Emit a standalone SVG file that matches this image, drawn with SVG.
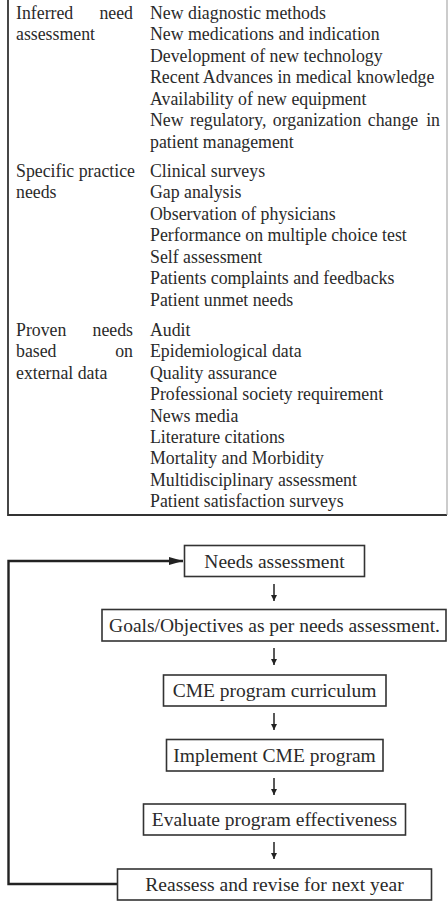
<svg xmlns="http://www.w3.org/2000/svg" width="448" height="902" viewBox="0 0 448 902">
<style>
text{font-family:"Liberation Serif","Times New Roman",serif;fill:#2a2a2a}
.t{font-size:17.8px}
.f{font-size:19.5px;text-anchor:middle}
.e{text-anchor:end}
.box{fill:#fff;stroke:#333;stroke-width:1.6}
.ar{stroke:#222;stroke-width:1.5;fill:none}
</style>
<defs>
<marker id="sm" viewBox="0 0 10 10" refX="10" refY="5" markerWidth="6" markerHeight="6" markerUnits="userSpaceOnUse" orient="auto"><path d="M0,0L10,5L0,10z" fill="#222"/></marker>
<marker id="lg" viewBox="0 0 14 8" refX="14" refY="4" markerWidth="14" markerHeight="8" markerUnits="userSpaceOnUse" orient="auto"><path d="M0,0L14,4L0,8z" fill="#222"/></marker>
</defs>
<g id="table">
<path d="M8,0V515H447" fill="none" stroke="#333" stroke-width="1.8"/>
<line x1="447" y1="0" x2="447" y2="515" stroke="#999" stroke-width="1"/>
<g id="row1">
<text class="t" x="16" y="18.7">Inferred</text><text class="t e" x="133" y="18.7">need</text>
<text class="t" x="16" y="40.2">assessment</text>
<text class="t" x="150" y="18.7">New diagnostic methods</text>
<text class="t" x="150" y="40.2">New medications and indication</text>
<text class="t" x="150" y="61.7">Development of new technology</text>
<text class="t" x="150" y="83.2">Recent Advances in medical knowledge</text>
<text class="t" x="150" y="104.7">Availability of new equipment</text>
<text class="t" x="150" y="126.2" word-spacing="2">New regulatory, organization change</text><text class="t e" x="440" y="126.2">in</text>
<text class="t" x="150" y="147.7">patient management</text>
</g>
<g id="row2">
<text class="t" x="16" y="176.7">Specific practice</text>
<text class="t" x="16" y="198.2">needs</text>
<text class="t" x="150" y="176.7">Clinical surveys</text>
<text class="t" x="150" y="198.2">Gap analysis</text>
<text class="t" x="150" y="219.7">Observation of physicians</text>
<text class="t" x="150" y="241.2">Performance on multiple choice test</text>
<text class="t" x="150" y="262.7">Self assessment</text>
<text class="t" x="150" y="284.2">Patients complaints and feedbacks</text>
<text class="t" x="150" y="305.7">Patient unmet needs</text>
</g>
<g id="row3">
<text class="t" x="16" y="336">Proven</text><text class="t e" x="133" y="336">needs</text>
<text class="t" x="16" y="357.4">based</text><text class="t e" x="133" y="357.4">on</text>
<text class="t" x="16" y="378.8">external data</text>
<text class="t" x="150" y="336">Audit</text>
<text class="t" x="150" y="357.4">Epidemiological data</text>
<text class="t" x="150" y="378.8">Quality assurance</text>
<text class="t" x="150" y="400.2">Professional society requirement</text>
<text class="t" x="150" y="421.6">News media</text>
<text class="t" x="150" y="443">Literature citations</text>
<text class="t" x="150" y="464.4">Mortality and Morbidity</text>
<text class="t" x="150" y="485.8">Multidisciplinary assessment</text>
<text class="t" x="150" y="507.2">Patient satisfaction surveys</text>
</g>
</g>
<g id="connectors">
<path d="M118,884H8.5V561H183" fill="none" stroke="#222" stroke-width="2.4" marker-end="url(#lg)"/>
<line class="ar" x1="274" y1="584" x2="274" y2="601" marker-end="url(#sm)"/>
<line class="ar" x1="274" y1="648" x2="274" y2="665" marker-end="url(#sm)"/>
<line class="ar" x1="274" y1="713" x2="274" y2="730" marker-end="url(#sm)"/>
<line class="ar" x1="274" y1="778" x2="274" y2="795" marker-end="url(#sm)"/>
<line class="ar" x1="274" y1="842" x2="274" y2="859" marker-end="url(#sm)"/>
</g>
<g id="n1"><rect class="box" x="184.5" y="545.5" width="180" height="31"/><text class="f" x="274.5" y="567.5">Needs assessment</text></g>
<g id="n2"><rect class="box" x="102" y="609.5" width="344" height="31.5"/><text class="f" x="274.5" y="631.5">Goals/Objectives as per needs assessment.</text></g>
<g id="n3"><rect class="box" x="163.5" y="675" width="222.5" height="31"/><text class="f" x="274.5" y="697">CME program curriculum</text></g>
<g id="n4"><rect class="box" x="166.5" y="739.5" width="216.5" height="31.5"/><text class="f" x="274.5" y="761.5">Implement CME program</text></g>
<g id="n5"><rect class="box" x="143.5" y="804" width="262" height="31"/><text class="f" x="274.5" y="826">Evaluate program effectiveness</text></g>
<g id="n6"><rect class="box" x="117.5" y="869" width="314" height="31"/><text class="f" x="274.5" y="891">Reassess and revise for next year</text></g>
</svg>
